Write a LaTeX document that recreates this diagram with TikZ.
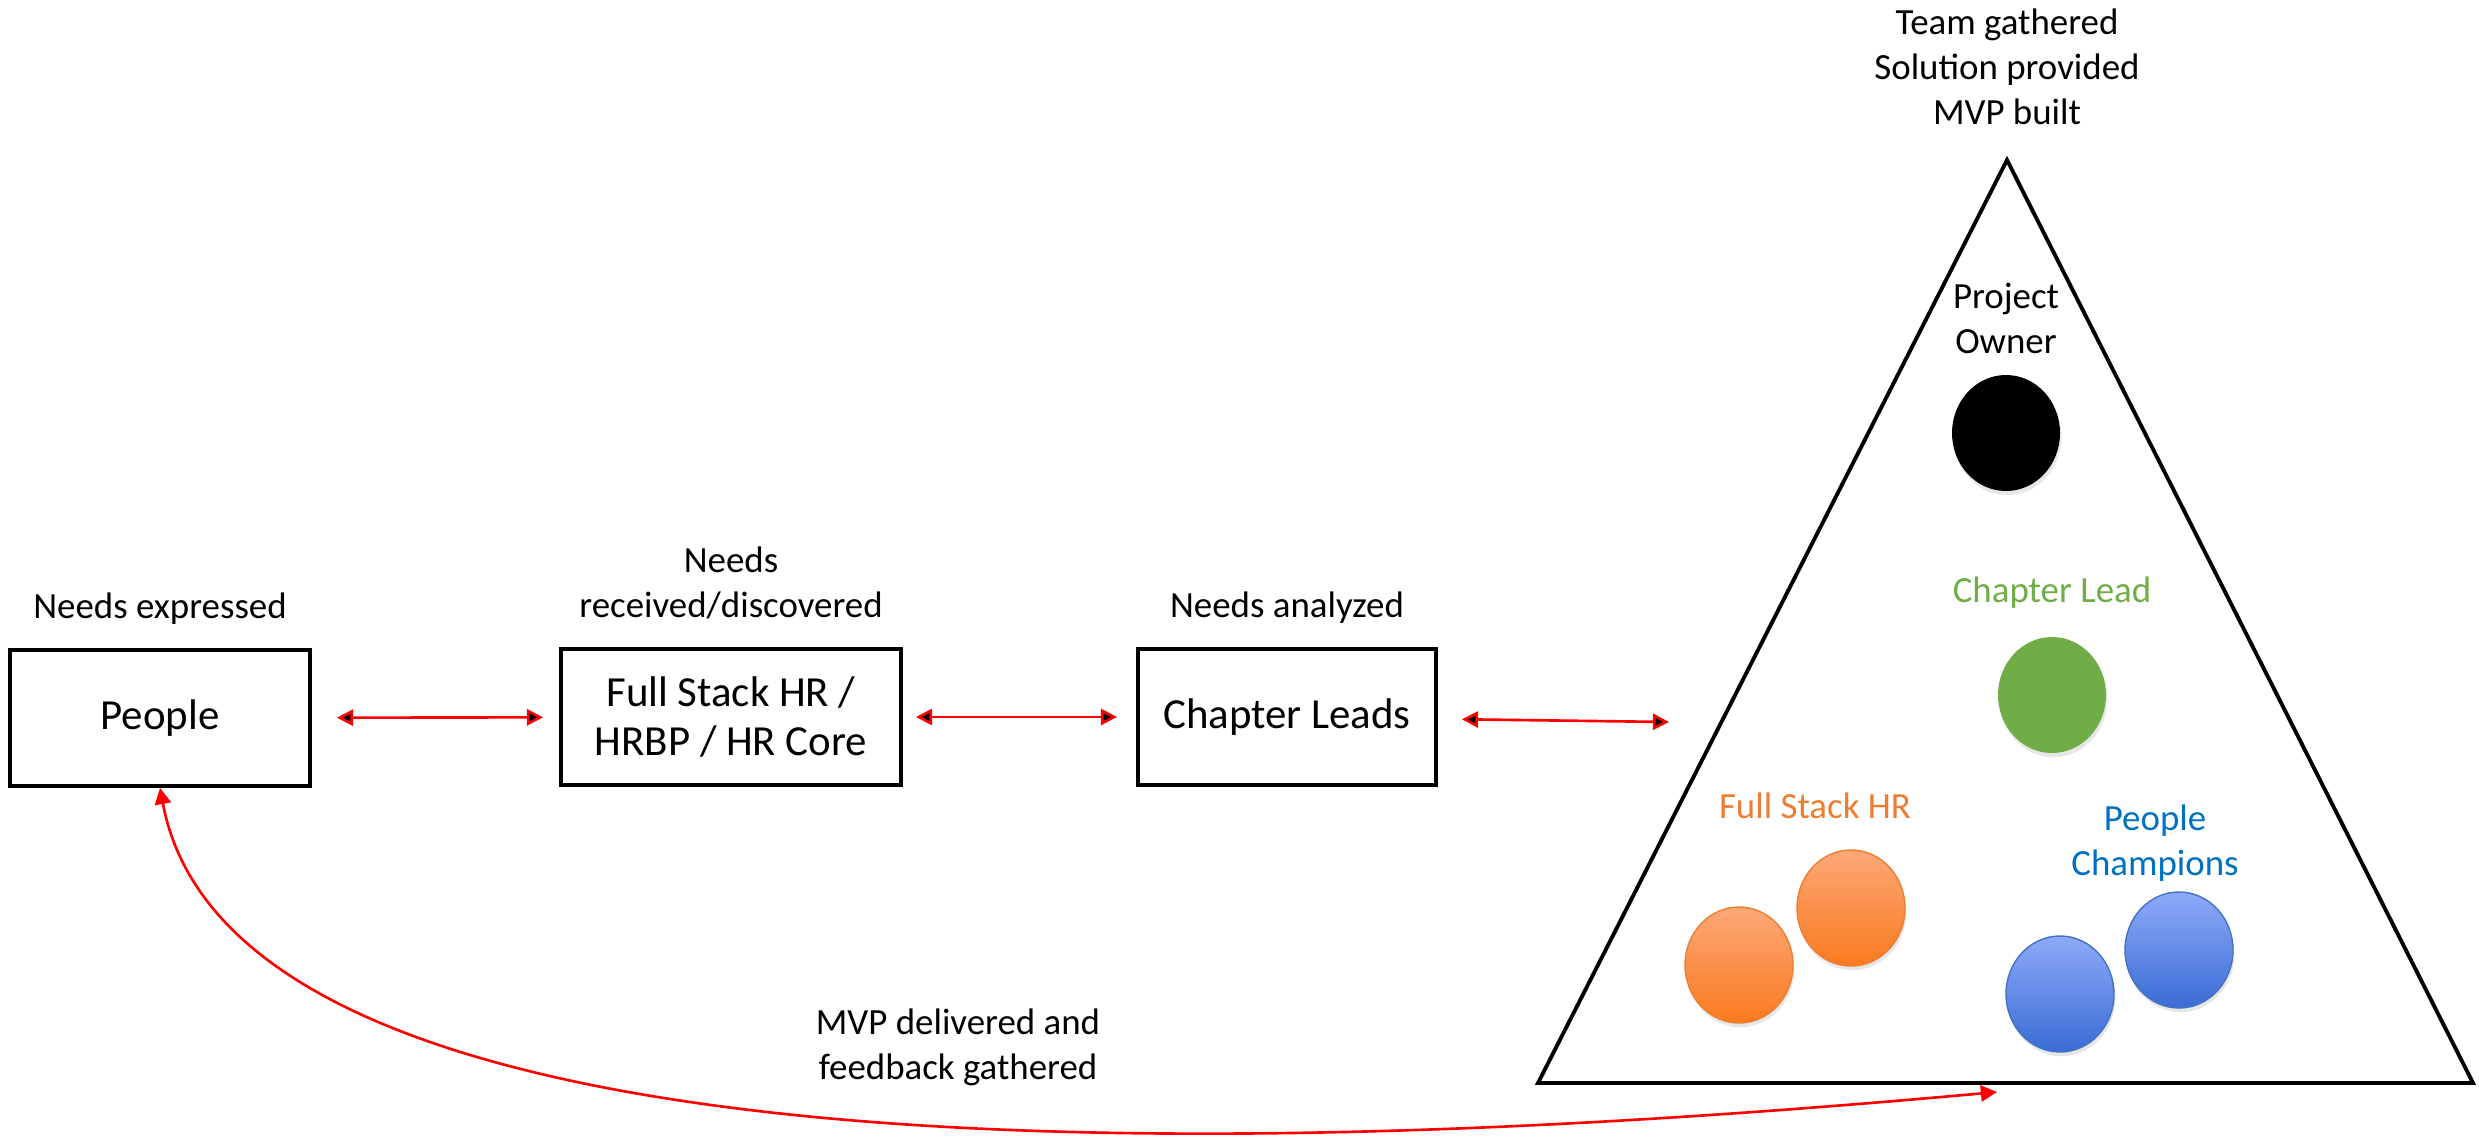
\documentclass[tikz,border=0pt]{standalone}
\usepackage{fontspec}
\setmainfont{Carlito}
\usepackage{tikz}
\usetikzlibrary{arrows.meta, shapes, positioning, shadows}
\definecolor{leadgreen}{HTML}{70AD47}
\definecolor{hrorange}{HTML}{ED7D31}
\definecolor{hrorangelight}{HTML}{FBA878}
\definecolor{hrorangedark}{HTML}{FA7A1E}
\definecolor{champblue}{HTML}{0070C0}
\definecolor{champbluelight}{HTML}{8EAAF9}
\definecolor{champbluedark}{HTML}{3A6CD4}
\definecolor{champblueline}{HTML}{4472C4}

\begin{document}
\begin{tikzpicture}[>={Triangle[length=4.6pt,width=4.6pt]}]
	\tikzstyle{box_style}=[rectangle, draw, line width=1.1pt, minimum height=1.36cm, font=\fontsize{12.2}{13.7}\selectfont, align=center]
	\tikzstyle{label_style}=[inner sep=0pt, text depth=0pt, font=\fontsize{10.5}{12.8}\selectfont, align=center]
	\tikzstyle{link_style}=[<->, draw=red, line width=0.75pt]
	\tikzstyle{member_style}=[ellipse, minimum width=1.08cm, minimum height=1.16cm, inner sep=0pt, drop shadow={opacity=0.2, shadow xshift=0.4pt, shadow yshift=-1.2pt}]
	\useasboundingbox (0,0) rectangle (24.79,11.36);
	% boxes
	\node at (1.60, 4.18) [box_style, minimum width=3.00cm] (people) {People};
	\node at (7.31, 4.19) [box_style, minimum width=3.40cm] (full_stack) {Full Stack HR /\\HRBP / HR Core};
	\node at (12.87, 4.19) [box_style, minimum width=2.98cm] (chapter_leads) {Chapter Leads};
	% needs
	\node [label_style, above=0.29cm of people] (needs_expressed) {Needs expressed};
	\node [label_style, above=0.29cm of full_stack] (needs_received) {Needs\\received/discovered};
	\node [label_style, above=0.29cm of chapter_leads] (needs_analyzed) {Needs analyzed};
	% team
	\coordinate (apex) at (20.07, 9.76);
	\coordinate (base_left) at (15.38, 0.53);
	\coordinate (base_right) at (24.73, 0.53);
	\draw[line width=1.1pt] (apex) -- (base_left) -- (base_right) -- cycle;
	\node [label_style, above=0.35cm of apex] (team_label) {Team gathered\\Solution provided\\MVP built};
	\node at (20.06, 8.18) [label_style] (owner_label) {Project\\Owner};
	\node at (20.06, 7.03) [member_style, fill=black] (owner) {};
	\node at (20.52, 5.46) [label_style, text=leadgreen] (lead_label) {Chapter Lead};
	\node at (20.52, 4.41) [member_style, fill=leadgreen, drop shadow={opacity=0}] (lead) {};
	\node at (18.15, 3.30) [label_style, text=hrorange] (hr_label) {Full Stack HR};
	\foreach \pos [count=\i] in {(17.39, 1.71), (18.51, 2.28)}
		\node at \pos [member_style, draw=hrorange, top color=hrorangelight, bottom color=hrorangedark] (hr_\i) {};
	\node at (21.55, 2.96) [label_style, text=champblue] (champ_label) {People\\Champions};
	\foreach \pos [count=\i] in {(20.60, 1.42), (21.79, 1.86)}
		\node at \pos [member_style, draw=champblueline, top color=champbluelight, bottom color=champbluedark] (champ_\i) {};
	% connect: boxes
	\coordinate (team_in) at (16.69, 4.14);
	\path[link_style] (people) edge[shorten <=0.25cm, shorten >=0.16cm] (full_stack);
	\path[link_style] (full_stack) edge[shorten <=0.13cm, shorten >=0.19cm] (chapter_leads);
	\path[link_style] (chapter_leads) edge[shorten <=0.24cm] (team_in);
	% connect: team -> people
	\coordinate (mvp_end) at (19.97, 0.44);
	\draw[link_style] (people.south) .. controls (2.4, -0.8) and (14, -0.1) .. (mvp_end);
	\node at (9.58, 0.92) [label_style] (mvp_label) {MVP delivered and\\feedback gathered};
\end{tikzpicture}
\end{document}
